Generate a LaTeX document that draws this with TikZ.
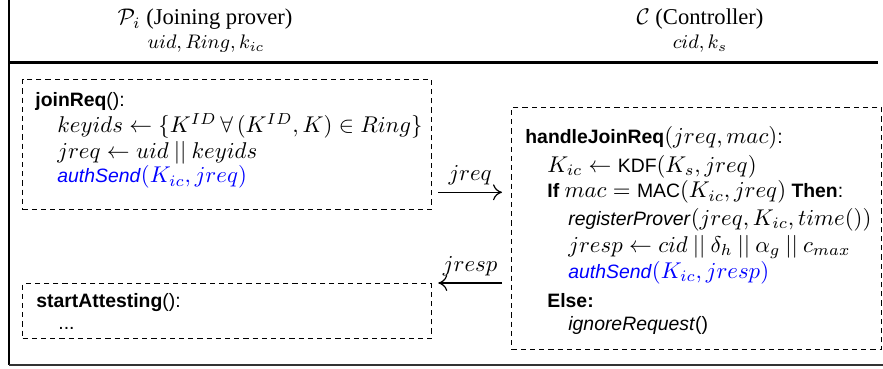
\RequirePackage{fix-cm}
\documentclass[tikz,border=0pt]{standalone}
\usepackage[no-math]{fontspec}
\setmainfont{Liberation Serif}
\setsansfont{Liberation Sans}[Scale=0.85]
\usetikzlibrary{arrows.meta}
\begin{document}
\begin{tikzpicture}[x=0.5pt,y=-0.5pt,
  box/.style={draw, dash pattern=on 2.6pt off 2pt, line width=0.65pt, inner sep=0pt, anchor=north west},
  ln/.style={anchor=base west, inner sep=0pt, font=\sffamily\fontsize{11.4}{13}\selectfont},
  hd/.style={anchor=base, inner sep=0pt, font=\fontsize{11.3}{13}\selectfont},
  hdsub/.style={anchor=base, inner sep=0pt, font=\fontsize{9.8}{12}\selectfont},
  msg/.style={-{To[length=4.5pt,width=8pt]}, line width=0.6pt},
  lbl/.style={midway, anchor=base, yshift=6pt, inner sep=0pt, font=\fontsize{11.4}{13}\selectfont},
  frame/.style={line width=0.75pt}]
\useasboundingbox (0,0) rectangle (883,369);
% frame
\draw[frame] (9,0) -- (9,365);
\draw[line width=1.1pt] (9,62.5) -- (878,62.5);
\draw[line width=1pt, black!80] (9,364.5) -- (883,364.5);
% headers
\node[hd] (ph1) at (205,25) {$\mathcal{P}_i$\ (Joining prover)};
\node[hdsub] (ph2) at (206,49) {$uid, Ring, k_{ic}$};
\node[hd] (ch1) at (700,25) {$\mathcal{C}$ (Controller)};
\node[hdsub] (ch2) at (700,49) {$cid, k_s$};
% boxes
\node[box, minimum width=204.5pt, minimum height=65pt] (jbox) at (22,79) {};
\node[box, minimum width=185pt, minimum height=121pt] (hbox) at (511,107) {};
\node[box, minimum width=204.5pt, minimum height=27.5pt] (sbox) at (22,283) {};
% left box text
\node[ln] (j1) at (35,107) {\textbf{joinReq}():};
\node[ln] (j2) at (57,133) {$keyids \leftarrow \{K^{ID}\,\forall\,(K^{ID},K)\in Ring\}$};
\node[ln] (j3) at (57,158) {$jreq \leftarrow uid \mathbin{||} keyids$};
\node[ln, text=blue] (j4) at (57,183) {\textit{authSend}$(K_{ic}, jreq)$};
% right box text
\node[ln] (h1) at (525,143) {\textbf{handleJoinReq}$(jreq, mac)$:};
\node[ln] (h2) at (547,172) {$K_{ic} \leftarrow \mbox{KDF}(K_s, jreq)$};
\node[ln] (h3) at (547,198) {\textbf{If} $mac = \mbox{MAC}(K_{ic}, jreq)$ \textbf{Then}:};
\node[ln] (h4) at (568,225) {\textit{registerProver}$(jreq, K_{ic}, time())$};
\node[ln] (h5) at (568,252) {$jresp \leftarrow cid \mathbin{||} \delta_h \mathbin{||} \alpha_g \mathbin{||} c_{max}$};
\node[ln, text=blue] (h6) at (568,278) {\textit{authSend}$(K_{ic}, jresp)$};
\node[ln] (h7) at (547,307) {\textbf{Else:}};
\node[ln] (h8) at (568,330) {\textit{ignoreRequest}()};
% bottom box text
\node[ln] (s1) at (36,307) {\textbf{startAttesting}():};
\node[ln] (s2) at (58,329) {...};
% messages
\coordinate (q1) at ([xshift=3pt,yshift=9pt]jbox.south east);
\coordinate (q2) at ([xshift=3pt]sbox.north east);
\draw[msg] (q1) -- ([xshift=-4.5pt]q1 -| hbox.west) node[lbl] (l1) {$jreq$};
\draw[msg] ([xshift=-4.5pt]q2 -| hbox.west) -- (q2) node[lbl] (l2) {$jresp$};
\end{tikzpicture}
\end{document}
